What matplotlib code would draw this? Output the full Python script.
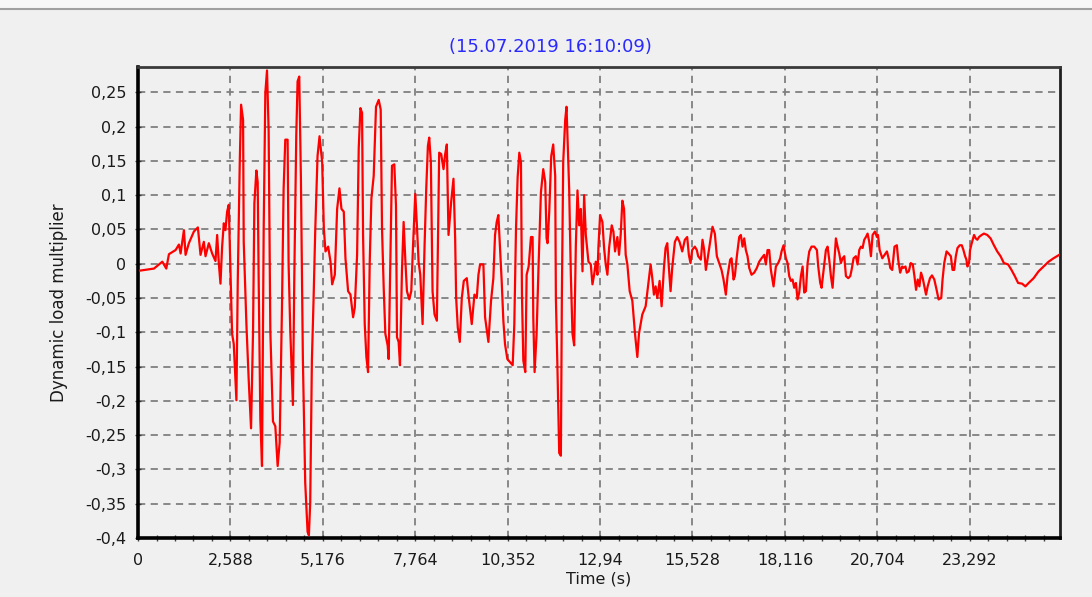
import matplotlib
matplotlib.use("Agg")
import matplotlib.pyplot as plt
from matplotlib.ticker import FixedLocator, AutoMinorLocator, FuncFormatter
from matplotlib.lines import Line2D

# time (s) and dynamic load multiplier
t_s = [
    0.056, 0.447, 0.680, 0.791, 0.866, 1.052, 1.145, 1.192, 1.285, 1.331,
    1.424, 1.564, 1.676, 1.750, 1.843, 1.890, 1.983, 2.076, 2.169, 2.216,
    2.262, 2.309, 2.355, 2.402, 2.448, 2.495, 2.541, 2.588, 2.634, 2.681,
    2.755, 2.793, 2.849, 2.886, 2.942, 2.960, 3.035, 3.100, 3.165, 3.221,
    3.258, 3.314, 3.351, 3.379, 3.426, 3.472, 3.519, 3.565, 3.612, 3.658,
    3.705, 3.779, 3.845, 3.910, 3.966, 4.031, 4.077, 4.124, 4.189, 4.217,
    4.264, 4.338, 4.375, 4.431, 4.468, 4.515, 4.561, 4.617, 4.682, 4.748,
    4.785, 4.822, 4.869, 4.915, 4.962, 5.027, 5.083,
    5.157, 5.204, 5.250, 5.325, 5.390, 5.437, 5.511, 5.576, 5.641, 5.697,
    5.762, 5.809, 5.883, 5.949, 6.023, 6.070, 6.135, 6.181, 6.228, 6.274,
    6.302, 6.349, 6.395, 6.442, 6.489, 6.535, 6.600, 6.665, 6.740, 6.796,
    6.833, 6.880, 6.926, 6.991, 7.019, 7.066, 7.112, 7.177, 7.224, 7.252,
    7.298, 7.336, 7.391, 7.438, 7.485, 7.531, 7.596, 7.652, 7.699, 7.764,
    7.810, 7.857, 7.904, 7.969, 8.025, 8.071, 8.118, 8.155, 8.201, 8.248,
    8.304, 8.369, 8.397, 8.434, 8.490, 8.555, 8.602, 8.648, 8.695, 8.769,
    8.834, 8.881, 8.909, 8.955, 9.011, 9.067, 9.123, 9.207, 9.253, 9.346,
    9.421, 9.486, 9.533, 9.579, 9.672, 9.719, 9.812, 9.886, 9.951, 9.998,
    10.045, 10.091, 10.138, 10.184, 10.231, 10.277, 10.343,
    10.492, 10.538, 10.585, 10.631, 10.678, 10.724, 10.752, 10.790, 10.845, 10.883,
    10.939, 11.004, 11.050, 11.069, 11.106, 11.162, 11.218, 11.283, 11.348, 11.404,
    11.441, 11.469, 11.516, 11.572, 11.627, 11.683, 11.702, 11.749, 11.795, 11.842,
    11.870, 11.907, 11.963, 12.000, 12.037, 12.074, 12.121, 12.167, 12.214, 12.261,
    12.307, 12.354, 12.400, 12.447, 12.493, 12.540, 12.614, 12.680, 12.726, 12.773,
    12.819, 12.866, 12.894, 12.940, 13.005, 13.052, 13.098, 13.145, 13.192, 13.266,
    13.313, 13.359, 13.424, 13.471, 13.517, 13.564, 13.611, 13.657, 13.704, 13.769,
    13.843, 13.918, 13.983, 14.029, 14.122, 14.216, 14.290, 14.355, 14.402, 14.448,
    14.495, 14.542, 14.607, 14.663, 14.728, 14.774, 14.821, 14.867, 14.914, 14.960,
    15.035, 15.100, 15.165, 15.240, 15.314, 15.379, 15.426, 15.472, 15.519,
    15.593, 15.649, 15.687, 15.762, 15.808, 15.855, 15.902, 15.948, 15.995, 16.042,
    16.088, 16.154, 16.210, 16.275, 16.341, 16.397, 16.462, 16.509, 16.583, 16.621,
    16.677, 16.714, 16.770, 16.836, 16.882, 16.929, 16.976, 17.022, 17.069, 17.116,
    17.181, 17.256, 17.331, 17.396, 17.461, 17.536, 17.583, 17.629, 17.676, 17.723,
    17.798, 17.863, 17.928, 17.984, 18.022, 18.078, 18.143, 18.190, 18.237, 18.283,
    18.330, 18.377, 18.424, 18.470, 18.517, 18.564, 18.611, 18.657, 18.704, 18.751,
    18.798, 18.862, 18.937, 19.012, 19.049, 19.105, 19.143, 19.199, 19.264, 19.311,
    19.357, 19.404, 19.451, 19.498, 19.544, 19.591, 19.638, 19.684, 19.731, 19.778,
    19.825, 19.890, 19.946, 19.983, 20.039, 20.104, 20.151, 20.198, 20.245, 20.291,
    20.338, 20.385, 20.431, 20.478, 20.525, 20.572, 20.637, 20.693,
    20.723, 20.769, 20.843, 20.908, 20.973, 21.029, 21.066, 21.121, 21.159, 21.186,
    21.251, 21.288, 21.344, 21.400, 21.437, 21.492, 21.530, 21.585, 21.641, 21.697,
    21.743, 21.789, 21.836, 21.882, 21.928, 21.975, 22.021, 22.068, 22.114, 22.179,
    22.235, 22.300, 22.364, 22.420, 22.494, 22.531, 22.578, 22.643, 22.698, 22.763,
    22.810, 22.856, 22.902, 22.949, 23.014, 23.069, 23.116, 23.162, 23.199, 23.227,
    23.273, 23.301, 23.348, 23.413, 23.459, 23.505, 23.552, 23.626, 23.691, 23.784,
    23.876, 23.969, 24.062, 24.155, 24.248, 24.368, 24.461, 24.554, 24.647, 24.758,
    24.850, 24.943, 25.082, 25.221, 25.361, 25.500, 25.639, 25.797,
]
load = [
    -0.010, -0.007, 0.003, -0.007, 0.014, 0.020, 0.028, 0.015, 0.049, 0.013,
    0.030, 0.047, 0.053, 0.013, 0.032, 0.011, 0.030, 0.015, 0.004, 0.042,
    0.001, -0.029, 0.025, 0.059, 0.049, 0.076, 0.086, -0.006, -0.102, -0.117,
    -0.199, -0.025, 0.148, 0.232, 0.210, 0.032, -0.088, -0.170, -0.240, -0.098,
    0.088, 0.136, 0.119, -0.025, -0.228, -0.295, 0.051, 0.249, 0.282, 0.193,
    -0.098, -0.230, -0.237, -0.295, -0.261, -0.064, 0.109, 0.181, 0.181, -0.001,
    -0.098, -0.206, -0.025, 0.186, 0.266, 0.273, 0.126, -0.141, -0.319, -0.391,
    -0.396, -0.348, -0.141, -0.054, 0.047, 0.157, 0.186,
    0.148, 0.051, 0.018, 0.025, 0.003, -0.030, -0.016, 0.080, 0.110, 0.080,
    0.076, 0.008, -0.040, -0.045, -0.078, -0.064, 0.013, 0.169, 0.227, 0.220,
    0.042, -0.088, -0.136, -0.158, 0.003, 0.095, 0.128, 0.229, 0.239, 0.225,
    0.051, -0.035, -0.102, -0.119, -0.139, 0.003, 0.143, 0.145, 0.085, -0.107,
    -0.114, -0.148, -0.011, 0.061, 0.006, -0.040, -0.052, -0.040, 0.023, 0.102,
    0.056, 0.003, -0.016, -0.088, 0.027, 0.109, 0.172, 0.184, 0.148, -0.040,
    -0.074, -0.083, 0.027, 0.162, 0.160, 0.138, 0.160, 0.174, 0.042, 0.090,
    0.124, 0.037, -0.050, -0.093, -0.114, -0.050, -0.025, -0.021, -0.045, -0.088,
    -0.045, -0.050, -0.016, -0.001, -0.001, -0.078, -0.114, -0.054, -0.021, 0.042,
    0.061, 0.071, 0.023, -0.025, -0.083, -0.117, -0.139,
    -0.148, -0.088, 0.051, 0.126, 0.162, 0.148, -0.045, -0.141, -0.158, -0.016,
    -0.004, 0.039, 0.039, -0.078, -0.158, -0.102, -0.001, 0.104, 0.138, 0.119,
    0.037, 0.030, 0.076, 0.157, 0.174, 0.128, -0.050, -0.160, -0.276, -0.280,
    -0.045, 0.148, 0.210, 0.229, 0.167, 0.109, -0.016, -0.102, -0.119, 0.027,
    0.107, 0.056, 0.080, -0.011, 0.100, 0.042, 0.003, -0.001, -0.030, -0.016,
    0.003, -0.016, 0.025, 0.071, 0.061, 0.023, -0.001, -0.016, 0.023, 0.056,
    0.047, 0.018, 0.039, 0.013, 0.042, 0.092, 0.080, 0.013, -0.001, -0.040,
    -0.054, -0.102, -0.136, -0.102, -0.074, -0.062, -0.030, -0.001, -0.021, -0.045,
    -0.033, -0.050, -0.025, -0.062, -0.006, 0.023, 0.030, -0.006, -0.040, -0.006,
    0.032, 0.039, 0.032, 0.018, 0.035, 0.039, 0.013, 0.001, 0.020,
    0.025, 0.020, 0.011, 0.006, 0.035, 0.020, -0.009, 0.006, 0.023, 0.039,
    0.054, 0.044, 0.011, 0.001, -0.009, -0.023, -0.045, -0.018, 0.006, 0.008,
    -0.023, -0.018, 0.011, 0.039, 0.042, 0.025, 0.037, 0.020, 0.011, -0.006,
    -0.016, -0.013, -0.006, 0.003, 0.008, 0.013, -0.001, 0.020, 0.020, -0.009,
    -0.033, -0.004, 0.001, 0.008, 0.018, 0.027, 0.008, 0.001, -0.018, -0.025,
    -0.023, -0.035, -0.028, -0.052, -0.042, -0.018, -0.004, -0.042, -0.040, 0.001,
    0.018, 0.025, 0.025, 0.020, -0.004, -0.028, -0.035, -0.009, 0.020, 0.025,
    0.006, -0.018, -0.035, 0.001, 0.037, 0.025, 0.015, 0.001, 0.008, 0.011,
    -0.018, -0.021, -0.018, -0.009, 0.008, 0.011, -0.001, 0.020, 0.025, 0.023,
    0.035, 0.039, 0.044, 0.032, 0.011, 0.042, 0.047, 0.039,
    0.042, 0.020, 0.008, 0.013, 0.018, 0.006, -0.006, -0.009, 0.011, 0.025,
    0.027, 0.006, -0.013, -0.004, -0.006, -0.004, -0.013, -0.011, 0.001, -0.001,
    -0.018, -0.038, -0.023, -0.033, -0.013, -0.021, -0.033, -0.045, -0.033, -0.021,
    -0.017, -0.023, -0.038, -0.052, -0.050, -0.023, 0.001, 0.018, 0.015, 0.011,
    -0.009, -0.009, 0.011, 0.023, 0.027, 0.027, 0.020, 0.011, 0.006, -0.004,
    0.001, 0.020, 0.030, 0.042, 0.037, 0.035, 0.039, 0.042, 0.044, 0.042,
    0.037, 0.027, 0.018, 0.011, 0.001, -0.001, -0.009, -0.018, -0.028, -0.029,
    -0.033, -0.028, -0.021, -0.011, -0.004, 0.003, 0.008, 0.013,
]

x_ticks = [0, 2.588, 5.176, 7.764, 10.352, 12.94, 15.528, 18.116, 20.704, 23.292]
y_ticks = [-0.4, -0.35, -0.3, -0.25, -0.2, -0.15, -0.1, -0.05, 0, 0.05, 0.1, 0.15, 0.2, 0.25]
title = "(15.07.2019 16:10:09)"

bg = "#f0f0f0"
plt.rcParams['font.family'] = ['DejaVu Sans']

fig = plt.figure(figsize=(10.92, 5.97), dpi=100, facecolor=bg)
ax = fig.add_axes([0.1264, 0.0988, 0.8443, 0.789])
ax.set_facecolor(bg)

ax.plot(t_s, load, color="#ff0000", lw=1.6, zorder=3)

ax.set_xlim(0, 25.82)
ax.set_ylim(-0.4, 0.287)


def comma_fmt(v, pos=None):
    v = round(v, 3)
    if v == 0:
        return "0"
    return f"{v:g}".replace(".", ",")


ax.xaxis.set_major_locator(FixedLocator(x_ticks))
ax.yaxis.set_major_locator(FixedLocator(y_ticks))
ax.xaxis.set_major_formatter(FuncFormatter(comma_fmt))
ax.yaxis.set_major_formatter(FuncFormatter(comma_fmt))
ax.xaxis.set_minor_locator(AutoMinorLocator(5))

ax.grid(True, which="major", color="#808080", linestyle=(0, (4, 3)), lw=1.3)
ax.tick_params(axis="both", which="major", direction="inout", length=5,
               width=1, color="#404040", labelsize=11.5, labelcolor="#1a1a1a")
ax.tick_params(axis="x", which="minor", direction="inout", length=4,
               width=1, color="#404040")
ax.tick_params(axis="x", pad=8)
ax.tick_params(axis="y", pad=6)

for side in ["left", "bottom"]:
    ax.spines[side].set_linewidth(2.6)
    ax.spines[side].set_color("black")
ax.spines["top"].set_linewidth(2.0)
ax.spines["top"].set_color("#3a3a3a")
ax.spines["right"].set_linewidth(2.0)
ax.spines["right"].set_color("#202020")

ax.set_xlabel("Time (s)", fontsize=11.5, color="#1a1a1a", labelpad=3)
ax.set_ylabel("Dynamic load multiplier", fontsize=12, color="#1a1a1a", labelpad=12)

fig.text(550 / 1092, 1 - 47 / 597, title, color="#2a2aff", fontsize=13,
         ha="center", va="center")

# window border line at the top
fig.add_artist(Line2D([0, 1], [1 - 9 / 597, 1 - 9 / 597], color="#a0a0a0", lw=1.5))
fig.patches.append(plt.Rectangle((0, 1 - 8 / 597), 1, 8 / 597, transform=fig.transFigure,
                                 facecolor="#f7f7f7", edgecolor="none", zorder=-1))

fig.savefig("out.png", dpi=100, facecolor=bg)
